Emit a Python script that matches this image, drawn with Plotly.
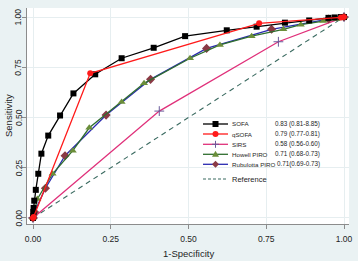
import plotly.graph_objects as go

# ---------------- data ----------------
sofa_fpr = [0, 0.001, 0.001, 0.002, 0.004, 0.009, 0.017, 0.027, 0.049, 0.087, 0.13, 0.20,
            0.285, 0.388, 0.489, 0.623, 0.719, 0.81, 0.888, 0.95, 0.97, 0.99, 1.0]
sofa_tpr = [0, 0.01, 0.03, 0.05, 0.086, 0.14, 0.22, 0.32, 0.41, 0.51, 0.62, 0.715,
            0.795, 0.847, 0.905, 0.934, 0.952, 0.972, 0.983, 0.996, 0.998, 1.0, 1.0]

qsofa_fpr = [0, 0.002, 0.184, 0.727, 0.99, 1.0]
qsofa_tpr = [0, 0.005, 0.72, 0.969, 0.998, 1.0]

sirs_fpr = [0, 0.406, 0.789, 1.0]
sirs_tpr = [0, 0.532, 0.877, 1.0]

howell_fpr = [0, 0.014, 0.063, 0.128, 0.181, 0.285, 0.357, 0.505, 0.601, 0.703, 0.805, 0.861, 0.933, 0.976, 1.0]
howell_tpr = [0, 0.095, 0.22, 0.335, 0.449, 0.577, 0.67, 0.795, 0.861, 0.905, 0.939, 0.962, 0.98, 0.99, 1.0]

rub_fpr = [0, 0.005, 0.040, 0.103, 0.235, 0.378, 0.558, 0.767, 0.95, 1.0]
rub_tpr = [0, 0.03, 0.148, 0.31, 0.512, 0.69, 0.844, 0.939, 0.99, 1.0]

ref_fpr = [0, 1]
ref_tpr = [0, 1]

series_names = ["SOFA", "qSOFA", "SIRS", "Howell PIRO", "Rubulotta PIRO", "Reference"]
auc_labels = ["0.83 (0.81-8.85)", "0.79 (0.77-0.81)", "0.58 (0.56-0.60)",
              "0.71 (0.68-0.73)", "0.71(0.69-0.73)", ""]
tick_vals = [0, 0.25, 0.5, 0.75, 1.0]
tick_text = ["0.00", "0.25", "0.50", "0.75", "1.00"]
x_title = "1-Specificity"
y_title = "Sensitivity"

# ---------------- style ----------------
FONT = "Liberation Sans, Arial, sans-serif"
TXT = "#1e1e1e"
C_SOFA = "#000000"
C_QSOFA = "#ff1a1a"
C_SIRS = "#e0307a"
C_SIRS_M = "#6a5a9a"
C_HOW_L = "#2f6e2f"
C_HOW_M = "#6b8e3a"
C_RUB_L = "#2a2ab0"
C_RUB_M = "#8a3a45"
C_REF = "#3a6a60"

W, H = 358, 261
ML, MR, MT, MB = 27, 9, 8, 37
PW, PH = W - ML - MR, H - MT - MB

fig = go.Figure()
lw = 1.3
fig.add_trace(go.Scatter(x=ref_fpr, y=ref_tpr, mode="lines",
                         line=dict(color=C_REF, width=1.1, dash="5px,4px")))
fig.add_trace(go.Scatter(x=sirs_fpr, y=sirs_tpr, mode="lines+markers",
                         line=dict(color=C_SIRS, width=lw),
                         marker=dict(symbol="cross-thin", size=7, line=dict(color=C_SIRS_M, width=1))))
fig.add_trace(go.Scatter(x=rub_fpr, y=rub_tpr, mode="lines+markers",
                         line=dict(color=C_RUB_L, width=lw),
                         marker=dict(symbol="diamond", size=7, color=C_RUB_M)))
fig.add_trace(go.Scatter(x=howell_fpr, y=howell_tpr, mode="lines+markers",
                         line=dict(color=C_HOW_L, width=lw),
                         marker=dict(symbol="triangle-up", size=7, color=C_HOW_M)))
fig.add_trace(go.Scatter(x=sofa_fpr, y=sofa_tpr, mode="lines+markers",
                         line=dict(color=C_SOFA, width=lw),
                         marker=dict(symbol="square", size=6, color=C_SOFA)))
fig.add_trace(go.Scatter(x=qsofa_fpr, y=qsofa_tpr, mode="lines+markers",
                         line=dict(color=C_QSOFA, width=lw),
                         marker=dict(symbol="circle", size=6, color=C_QSOFA)))


def px(xp):
    return (xp - ML) / PW


def py(yp):
    return (H - MB - yp) / PH


# ---------------- manual legend ----------------
shapes = []
annotations = []
row_y = [124, 134, 144.3, 154.3, 164.3, 179]
line_cols = [C_SOFA, C_QSOFA, C_SIRS, C_HOW_L, C_RUB_L, C_REF]
mk_cols = [C_SOFA, C_QSOFA, C_SIRS_M, C_HOW_M, C_RUB_M, None]
sw_x0, sw_x1, sw_xm = 203, 228, 215.5
for i, name in enumerate(series_names):
    yy = py(row_y[i])
    shapes.append(dict(type="line", xref="paper", yref="paper",
                       x0=px(sw_x0), x1=px(sw_x1), y0=yy, y1=yy,
                       line=dict(color=line_cols[i], width=1.3 if i < 5 else 1.1,
                                 dash="solid" if i < 5 else "3px,2px")))
    mk = dict(xref="paper", yref="paper", xsizemode="pixel", ysizemode="pixel",
              xanchor=px(sw_xm), yanchor=yy, line=dict(width=0))
    if i == 0:
        shapes.append(dict(type="rect", x0=-3, x1=3, y0=-3, y1=3, fillcolor=mk_cols[i], **mk))
    elif i == 1:
        shapes.append(dict(type="circle", x0=-3, x1=3, y0=-3, y1=3, fillcolor=mk_cols[i], **mk))
    elif i == 2:
        m = dict(mk)
        m["line"] = dict(color=mk_cols[i], width=1)
        shapes.append(dict(type="path", path="M -3.5,0 L 3.5,0 M 0,-3.5 L 0,3.5", **m))
    elif i == 3:
        shapes.append(dict(type="path", path="M -3.5,-2.5 L 3.5,-2.5 L 0,3.5 Z", fillcolor=mk_cols[i], **mk))
    elif i == 4:
        shapes.append(dict(type="path", path="M -3.5,0 L 0,3.5 L 3.5,0 L 0,-3.5 Z", fillcolor=mk_cols[i], **mk))
    annotations.append(dict(x=px(231), y=yy, xref="paper", yref="paper", text=name,
                            showarrow=False, xanchor="left", yanchor="middle", borderpad=0,
                            font=dict(family=FONT, size=7.5 if i == 5 else 6.2, color=TXT)))
    if auc_labels[i]:
        annotations.append(dict(x=px(321), y=yy, xref="paper", yref="paper", text=auc_labels[i],
                                showarrow=False, xanchor="right", yanchor="middle", borderpad=0,
                                font=dict(family=FONT, size=6.3, color=TXT)))

# rotated y tick labels (Stata style) and axis titles
for v, t in zip(tick_vals, tick_text):
    annotations.append(dict(x=px(18.5), y=v, xref="paper", yref="y", text=t, textangle=-90,
                            showarrow=False, xanchor="center", yanchor="middle", borderpad=0,
                            font=dict(family=FONT, size=8.5, color=TXT)))
annotations.append(dict(x=px(8), y=0.5, xref="paper", yref="paper", text=y_title, textangle=-90,
                        showarrow=False, xanchor="center", yanchor="middle", borderpad=0,
                        font=dict(family=FONT, size=9.5, color=TXT)))
annotations.append(dict(x=0.5, y=py(253), xref="paper", yref="paper", text=x_title,
                        showarrow=False, xanchor="center", yanchor="middle", borderpad=0,
                        font=dict(family=FONT, size=9.5, color=TXT)))

axis_common = dict(
    tickvals=tick_vals, ticktext=tick_text, automargin=False,
    showgrid=True, gridcolor="#e6eef0", gridwidth=1,
    zeroline=False, showline=True, linecolor="#8c8c8c", linewidth=1,
    ticks="outside", ticklen=4, tickcolor="#8c8c8c",
    tickfont=dict(family=FONT, size=8.5, color=TXT),
)

fig.update_layout(
    width=W, height=H,
    margin=dict(l=ML, r=MR, t=MT, b=MB, autoexpand=False),
    paper_bgcolor="#eaf2f3", plot_bgcolor="#ffffff",
    showlegend=False,
    xaxis=dict(range=[-0.0193, 1.016], ticklabelstandoff=3, **axis_common),
    yaxis=dict(range=[-0.03, 1.045], showticklabels=False, **axis_common),
    shapes=shapes, annotations=annotations,
)

fig.write_html("out.html", config={"displayModeBar": False},
               post_script="document.body.style.margin='0';document.body.style.overflow='hidden';")
